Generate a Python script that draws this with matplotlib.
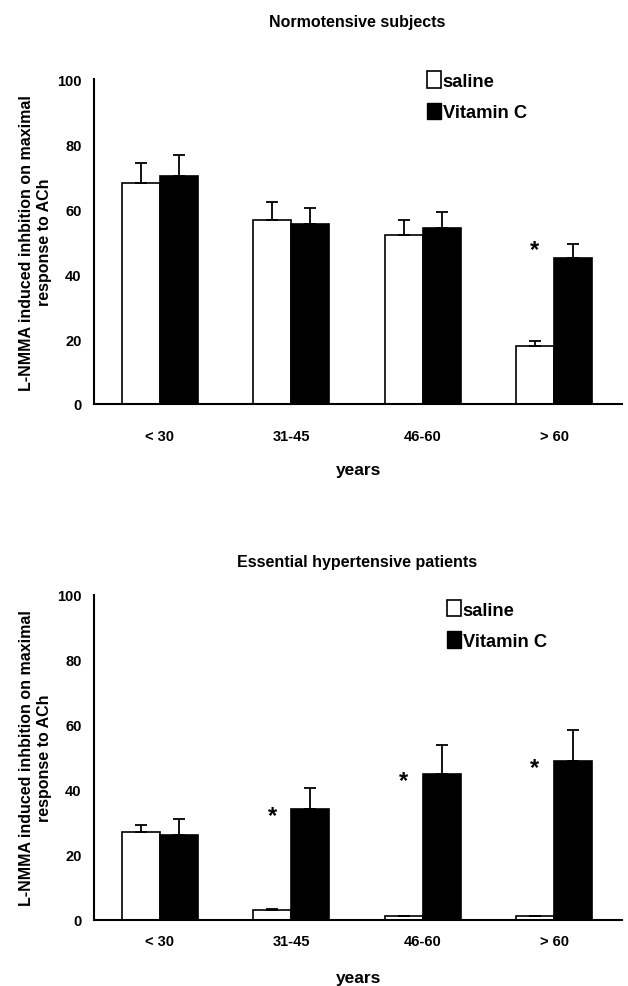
import numpy as np
import matplotlib.pyplot as plt
from matplotlib.patches import Patch

plt.rcParams['font.family'] = ['Liberation Sans', 'DejaVu Sans']
plt.rcParams['font.weight'] = 'bold'

groups = ["< 30", "31-45", "46-60", "> 60"]

# Normotensive subjects
norm_saline = [68.0, 56.8, 51.9, 17.9]
norm_saline_err = [6.1, 5.3, 4.7, 1.5]
norm_vitc = [70.2, 55.3, 54.1, 44.9]
norm_vitc_err = [6.6, 5.2, 5.1, 4.5]
norm_star = [None, None, None, 47.5]

# Essential hypertensive patients
hyp_saline = [27.0, 3.0, 1.0, 1.0]
hyp_saline_err = [2.3, 0.3, 0.0, 0.0]
hyp_vitc = [26.1, 34.1, 44.9, 49.0]
hyp_vitc_err = [5.0, 6.5, 8.9, 9.5]
hyp_star = [None, 32.0, 43.0, 47.0]

panels = [
    ("Normotensive subjects", norm_saline, norm_saline_err, norm_vitc, norm_vitc_err, norm_star),
    ("Essential hypertensive patients", hyp_saline, hyp_saline_err, hyp_vitc, hyp_vitc_err, hyp_star),
]

fig = plt.figure(figsize=(6.28, 9.87), dpi=100)
ax_rects = [[0.150, 0.5897, 0.841, 0.329], [0.150, 0.0672, 0.841, 0.329]]
title_y = [1 - 22 / 987, 1 - 563 / 987]
legend_anchor = [(0.599, 1.075), (0.637, 1.035)]

x = np.arange(len(groups))
w = 0.29

for i, (rect, (title, sal, sal_err, vit, vit_err, stars)) in enumerate(zip(ax_rects, panels)):
    ax = fig.add_axes(rect)
    ekw = dict(ecolor="black", elinewidth=1.3, capsize=4, capthick=1.3)
    ax.bar(x - w / 2, sal, w, yerr=[np.zeros(4), sal_err], color="white",
           edgecolor="black", linewidth=1.2, error_kw=ekw, label="saline")
    ax.bar(x + w / 2, vit, w, yerr=[np.zeros(4), vit_err], color="black",
           edgecolor="black", linewidth=1.2, error_kw=ekw, label="Vitamin C")
    for xi, s in zip(x, stars):
        if s is not None:
            ax.text(xi - w / 2, s, "*", ha="center", va="center", fontsize=17, fontweight="bold")

    ax.set_xlim(-0.5, 3.52)
    ax.set_ylim(0, 100)
    ax.set_yticks([0, 20, 40, 60, 80, 100])
    ax.set_xticks(x)
    ax.set_xticklabels(groups)
    ax.tick_params(axis="both", labelsize=10.5, length=0)
    ax.tick_params(axis="y", pad=9)
    ax.tick_params(axis="x", pad=18 if i == 0 else 10)
    for sp in ["top", "right"]:
        ax.spines[sp].set_visible(False)
    ax.spines["left"].set_linewidth(1.5)
    ax.spines["bottom"].set_linewidth(1.5)

    ax.set_ylabel("L-NMMA induced inhbition on maximal\nresponse to ACh", fontsize=11.5,
                  fontweight="bold", labelpad=4)
    ax.set_xlabel("years", fontsize=12.5, fontweight="bold", labelpad=14 if i == 0 else 16)
    fig.text(0.568, title_y[i], title, ha="center", va="center", fontsize=11.5, fontweight="bold")

    handles = [Patch(facecolor="white", edgecolor="black", linewidth=1.2),
               Patch(facecolor="black", edgecolor="black")]
    ax.legend(handles, ["saline", "Vitamin C"], loc="upper left", bbox_to_anchor=legend_anchor[i],
              frameon=False, handlelength=0.75, handleheight=1.0,
              handletextpad=0.1, labelspacing=0.7, prop={"weight": "bold", "size": 13.2})

fig.savefig("out.png", dpi=100)
